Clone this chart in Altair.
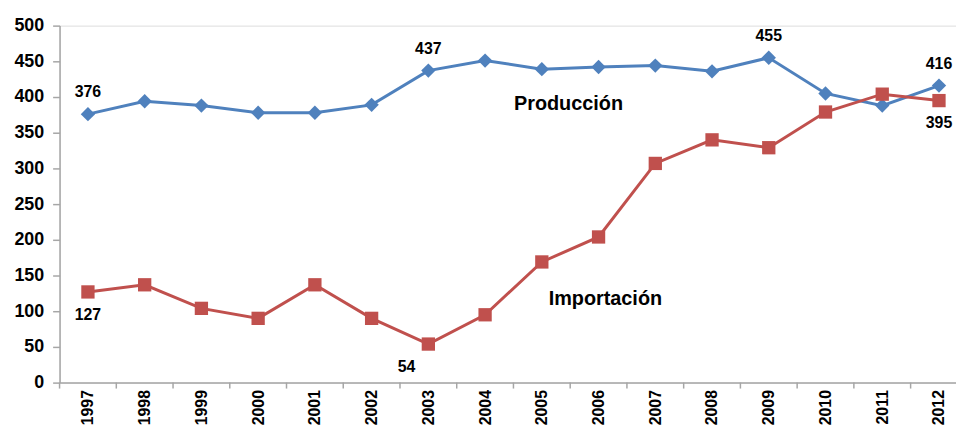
import altair as alt
import pandas as pd

years = list(range(1997, 2013))
produccion = [376, 394, 388, 378, 378, 389, 437, 451, 439, 442, 444, 436, 455, 405, 388, 416]
importacion = [127, 137, 104, 90, 137, 90, 54, 95, 169, 204, 307, 340, 329, 379, 404, 395]

# labelled points
label_year_prod = [1997, 2003, 2009, 2012]
label_year_imp = [1997, 2012]
label_year_imp_left = [2003]

# y axis tick values
y_ticks = [0, 50, 100, 150, 200, 250, 300, 350, 400, 450, 500]

# series name annotations (data units)
ann_text = ["Producción", "Importación"]
ann_x = [2005.47, 2006.12]
ann_y = [390, 117]

tick_positions = [y - 0.5 for y in years]

BLUE = "#4F81BD"
RED = "#C0504D"
FONT = "Liberation Sans"
GREY = "#A6A6A6"

df_p = pd.DataFrame({"year": years, "value": produccion})
df_i = pd.DataFrame({"year": years, "value": importacion})

xscale = alt.Scale(domain=[1996.5, 2012.3], nice=False, zero=False)
yscale = alt.Scale(domain=[0, 500], nice=False)

x_axis = alt.Axis(values=years, ticks=False, labelAngle=-90, labelAlign="right",
                  labelBaseline="middle", labelPadding=7, labelFontSize=16,
                  labelFontWeight="bold", labelFont=FONT, labelColor="#000000",
                  labelOverlap=False, labelBound=False,
                  domainColor=GREY, domainWidth=1.5, grid=False, title=None, format="d")
y_axis = alt.Axis(values=y_ticks, tickSize=7, tickColor=GREY,
                  tickWidth=1.5, domainColor=GREY, domainWidth=1.5,
                  labelFontSize=18, labelFontWeight="bold", labelFont=FONT,
                  labelColor="#000000", labelPadding=9, grid=False, title=None,
                  labelOverlap=False)


def X(field):
    return alt.X(field, scale=xscale, axis=x_axis)


def Y(field):
    return alt.Y(field, scale=yscale, axis=y_axis)


line_p = alt.Chart(df_p).mark_line(color=BLUE, strokeWidth=3).encode(x=X("year:Q"), y=Y("value:Q"))
pts_p = alt.Chart(df_p).mark_point(shape="diamond", filled=True, color=BLUE, size=210, opacity=1).encode(
    x=X("year:Q"), y=Y("value:Q"))
line_i = alt.Chart(df_i).mark_line(color=RED, strokeWidth=3).encode(x=X("year:Q"), y=Y("value:Q"))
pts_i = alt.Chart(df_i).mark_point(shape="square", filled=True, color=RED, size=180, opacity=1).encode(
    x=X("year:Q"), y=Y("value:Q"))

lab_p = alt.Chart(df_p[df_p.year.isin(label_year_prod)]).mark_text(
    dy=-22, font=FONT, fontSize=16, fontWeight="bold", color="#000000").encode(
    x=X("year:Q"), y=Y("value:Q"), text="value:Q")
lab_i = alt.Chart(df_i[df_i.year.isin(label_year_imp)]).mark_text(
    dy=23, font=FONT, fontSize=16, fontWeight="bold", color="#000000").encode(
    x=X("year:Q"), y=Y("value:Q"), text="value:Q")
lab_i2 = alt.Chart(df_i[df_i.year.isin(label_year_imp_left)]).mark_text(
    dy=23, dx=-22, font=FONT, fontSize=16, fontWeight="bold", color="#000000").encode(
    x=X("year:Q"), y=Y("value:Q"), text="value:Q")

df_ann = pd.DataFrame({"t": ann_text, "x": ann_x, "y": ann_y})
ann = alt.Chart(df_ann).mark_text(font=FONT, fontSize=20, fontWeight="bold", color="#000000").encode(
    x=X("x:Q"), y=Y("y:Q"), text="t:N")

df_ticks = pd.DataFrame({"x": tick_positions})
ticks = alt.Chart(df_ticks).mark_rule(color=GREY, strokeWidth=1.5).encode(
    x=X("x:Q"), y=alt.value(360), y2=alt.value(366))

chart = alt.layer(line_p, line_i, pts_p, pts_i, lab_p, lab_i, lab_i2, ann, ticks).properties(
    width=904, height=360,
    autosize=alt.AutoSizeParams(type="none"),
    padding={"left": 52, "top": 16, "right": 0, "bottom": 44},
).configure_view(stroke=None).configure(background="white")

chart.save("out.html", embed_options={"renderer": "svg", "actions": False})
